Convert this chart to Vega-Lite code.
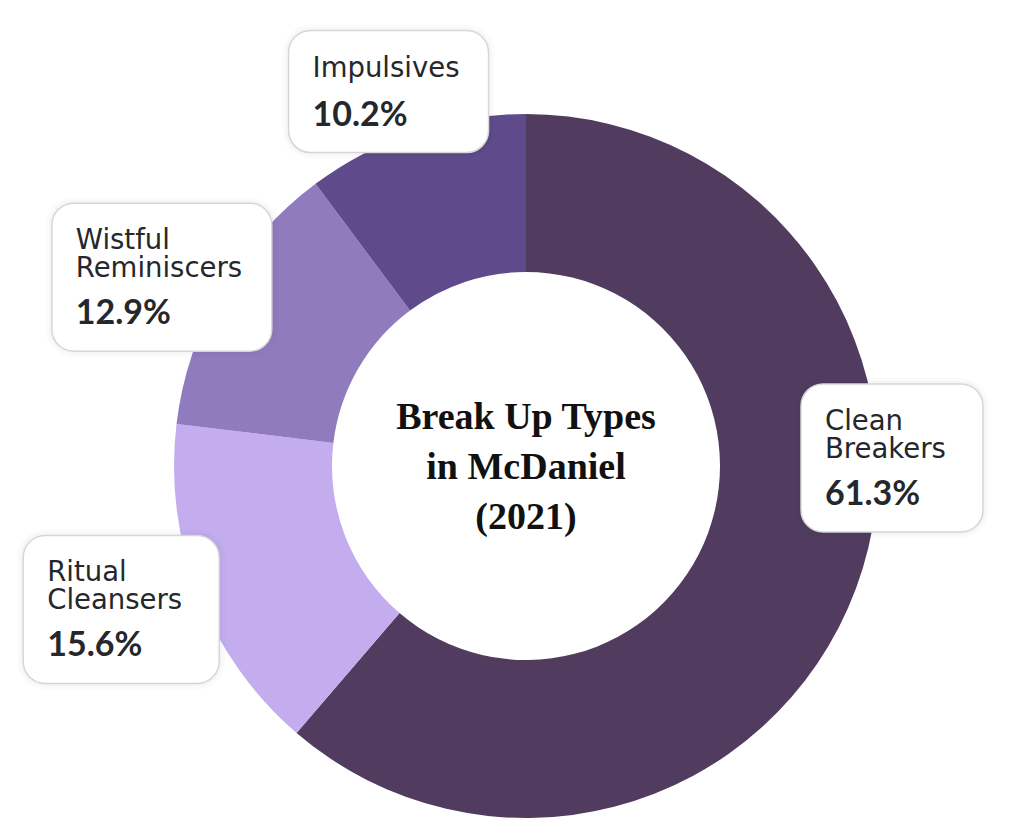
{
  "$schema": "https://vega.github.io/schema/vega-lite/v6.json",
  "width": 980,
  "height": 704,
  "autosize": {"type": "none"},
  "padding": {"left": 36, "top": 114, "right": 0, "bottom": 0},
  "background": "white",
  "config": {"view": {"stroke": null}},
  "data": {
    "values": [
      {"type": "Clean\nBreakers", "share": 61.3},
      {"type": "Ritual\nCleansers", "share": 15.6},
      {"type": "Wistful\nReminiscers", "share": 12.9},
      {"type": "Impulsives", "share": 10.2}
    ]
  },
  "transform": [
    {"window": [{"op": "row_number", "as": "idx"}]},
    {"window": [{"op": "sum", "field": "share", "as": "cum"}], "sort": [{"field": "idx"}], "frame": [null, 0]},
    {"calculate": "(datum.cum - datum.share / 2) / 100", "as": "mid"},
    {"calculate": "datum.mid < 0.5 ? 0.245 : datum.mid", "as": "la"},
    {"calculate": "min(1.2216 * sin(2 * PI * datum.la), 1.071)", "as": "bx"},
    {"calculate": "1.0938 * cos(2 * PI * datum.la)", "as": "by"},
    {"calculate": "indexof(datum.type, '\\n') >= 0 ? 2 : 1", "as": "nl"},
    {"calculate": "format(datum.share, '.1f') + '%'", "as": "pl"}
  ],
  "layer": [
    {
      "mark": {"type": "arc", "radius": 352, "innerRadius": 194},
      "encoding": {
        "theta": {"field": "share", "type": "quantitative", "stack": true},
        "order": {"field": "idx", "type": "quantitative"},
        "color": {
          "field": "type",
          "type": "nominal",
          "scale": {
            "domain": ["Clean\nBreakers", "Ritual\nCleansers", "Wistful\nReminiscers", "Impulsives"],
            "range": ["#513c60", "#c3adee", "#917bbf", "#5f4a8b"]
          },
          "legend": null
        }
      }
    },
    {
      "data": {"values": [{"title": "Break Up Types\nin McDaniel\n(2021)"}]},
      "transform": [],
      "mark": {
        "type": "text",
        "font": "Liberation Serif",
        "fontWeight": "bold",
        "fontSize": 38,
        "lineHeight": 50,
        "lineBreak": "\n",
        "align": "center",
        "baseline": "middle",
        "dy": -48,
        "color": "#111111"
      },
      "encoding": {"text": {"field": "title", "type": "nominal"}}
    },
    {
      "mark": {"type": "point", "size": 4, "filled": false, "stroke": "#000000", "strokeOpacity": 0.015, "strokeWidth": 12, "opacity": 1},
      "encoding": {
        "x": {"field": "bx", "type": "quantitative", "scale": {"domain": [-1.392, 1.392], "nice": false, "zero": false}, "axis": null},
        "y": {"field": "by", "type": "quantitative", "scale": {"domain": [-1, 1], "nice": false, "zero": false}, "axis": null},
        "shape": {
          "field": "type",
          "type": "nominal",
          "scale": {
            "domain": ["Clean\nBreakers", "Ritual\nCleansers", "Wistful\nReminiscers", "Impulsives"],
            "range": [
              "M-80,-70H58A22,22 0 0 1 80,-48V56A22,22 0 0 1 58,78H-80A22,22 0 0 1 -102,56V-48A22,22 0 0 1 -80,-70Z",
              "M-80,-70H72A22,22 0 0 1 94,-48V56A22,22 0 0 1 72,78H-80A22,22 0 0 1 -102,56V-48A22,22 0 0 1 -80,-70Z",
              "M-80,-70H96A22,22 0 0 1 118,-48V56A22,22 0 0 1 96,78H-80A22,22 0 0 1 -102,56V-48A22,22 0 0 1 -80,-70Z",
              "M-80,-70H76A22,22 0 0 1 98,-48V30A22,22 0 0 1 76,52H-80A22,22 0 0 1 -102,30V-48A22,22 0 0 1 -80,-70Z"
            ]
          },
          "legend": null
        }
      }
    },
    {
      "mark": {"type": "point", "size": 4, "filled": false, "stroke": "#000000", "strokeOpacity": 0.02, "strokeWidth": 6, "opacity": 1},
      "encoding": {
        "x": {"field": "bx", "type": "quantitative"},
        "y": {"field": "by", "type": "quantitative"},
        "shape": {"field": "type", "type": "nominal", "legend": null}
      }
    },
    {
      "mark": {"type": "point", "size": 4, "filled": true, "fill": "#ffffff", "stroke": "#d6d6d6", "strokeWidth": 1.5, "opacity": 1, "fillOpacity": 1},
      "encoding": {
        "x": {"field": "bx", "type": "quantitative"},
        "y": {"field": "by", "type": "quantitative"},
        "shape": {"field": "type", "type": "nominal", "legend": null}
      }
    },
    {
      "mark": {
        "type": "text",
        "font": "DejaVu Sans",
        "fontSize": 27.5,
        "lineHeight": 28,
        "lineBreak": "\n",
        "align": "left",
        "baseline": "alphabetic",
        "dx": -78,
        "dy": -24,
        "color": "#25272b"
      },
      "encoding": {
        "x": {"field": "bx", "type": "quantitative"},
        "y": {"field": "by", "type": "quantitative"},
        "text": {"field": "type", "type": "nominal"}
      }
    },
    {
      "transform": [{"filter": "datum.nl == 1"}],
      "mark": {
        "type": "text",
        "font": "Lato",
        "fontWeight": "bold",
        "fontSize": 34,
        "align": "left",
        "baseline": "alphabetic",
        "dx": -78,
        "dy": 25,
        "color": "#25272b"
      },
      "encoding": {
        "x": {"field": "bx", "type": "quantitative"},
        "y": {"field": "by", "type": "quantitative"},
        "text": {"field": "pl", "type": "nominal"}
      }
    },
    {
      "transform": [{"filter": "datum.nl == 2"}],
      "mark": {
        "type": "text",
        "font": "Lato",
        "fontWeight": "bold",
        "fontSize": 34,
        "align": "left",
        "baseline": "alphabetic",
        "dx": -78,
        "dy": 51,
        "color": "#25272b"
      },
      "encoding": {
        "x": {"field": "bx", "type": "quantitative"},
        "y": {"field": "by", "type": "quantitative"},
        "text": {"field": "pl", "type": "nominal"}
      }
    }
  ]
}
